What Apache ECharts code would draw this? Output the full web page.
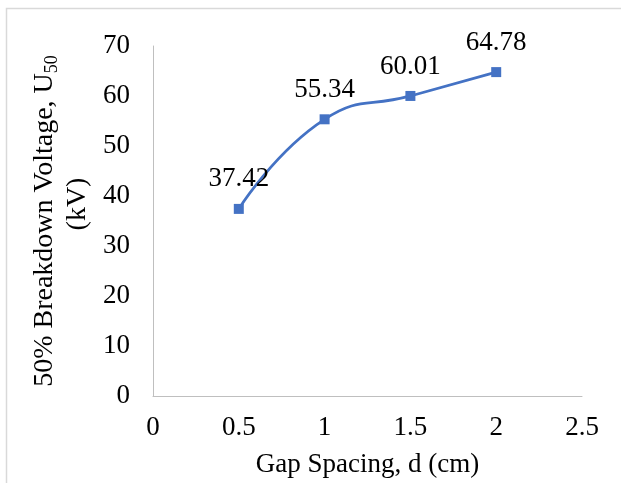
<!DOCTYPE html>
<html>
<head>
<meta charset="utf-8">
<script src="https://cdn.jsdelivr.net/npm/echarts@6/dist/echarts.min.js"></script>
<style>
html,body{margin:0;padding:0;background:#fff;}
#chart{width:621px;height:483px;}
</style>
</head>
<body>
<div id="chart"></div>
<script>
var gapSpacing = [0.5, 1, 1.5, 2];
var breakdownVoltage = [37.42, 55.34, 60.01, 64.78];
var xTicks = [0, 0.5, 1, 1.5, 2, 2.5];
var yTicks = [0, 10, 20, 30, 40, 50, 60, 70];

var FONT = '"Liberation Serif", "Times New Roman", serif';
var chart = echarts.init(document.getElementById('chart'), null, {renderer: 'canvas'});
var data = gapSpacing.map(function (x, i) { return [x, breakdownVoltage[i]]; });

chart.setOption({
  animation: false,
  backgroundColor: '#ffffff',
  graphic: [{
    type: 'rect',
    shape: {x: 6.5, y: 8.5, width: 700, height: 600},
    style: {fill: 'none', stroke: '#D9D9D9', lineWidth: 1.5},
    silent: true
  }],
  grid: {left: 153, right: 39, top: 46, bottom: 87, containLabel: false},
  xAxis: {
    type: 'value',
    min: xTicks[0],
    max: xTicks[xTicks.length - 1],
    interval: 0.5,
    name: 'Gap Spacing, d (cm)',
    nameLocation: 'middle',
    nameGap: 55,
    nameTextStyle: {fontFamily: FONT, fontSize: 27, color: '#000'},
    axisLine: {show: true, lineStyle: {color: '#BFBFBF', width: 1}},
    axisTick: {show: false},
    splitLine: {show: false},
    axisLabel: {fontFamily: FONT, fontSize: 27, color: '#000', margin: 18}
  },
  yAxis: {
    type: 'value',
    min: yTicks[0],
    max: yTicks[yTicks.length - 1],
    interval: 10,
    name: '{t|50% Breakdown Voltage, U}{s|50}\n{k|(kV)}',
    nameLocation: 'middle',
    nameRotate: 90,
    nameGap: 55,
    nameTextStyle: {
      fontFamily: FONT, fontSize: 28, color: '#000', align: 'center',
      rich: {
        t: {fontFamily: FONT, fontSize: 28, color: '#000', lineHeight: 33},
        k: {fontFamily: FONT, fontSize: 28, color: '#000', lineHeight: 33, padding: [0, 0, 0, 34]},
        s: {fontFamily: FONT, fontSize: 18, color: '#000', lineHeight: 18, verticalAlign: 'bottom'}
      }
    },
    axisLine: {show: true, lineStyle: {color: '#BFBFBF', width: 1}},
    axisTick: {show: false},
    splitLine: {show: false},
    axisLabel: {fontFamily: FONT, fontSize: 27, color: '#000', margin: 23}
  },
  series: [{
    type: 'line',
    data: data,
    smooth: 0.5,
    symbol: 'rect',
    symbolSize: 10,
    lineStyle: {color: '#4472C4', width: 2.75},
    itemStyle: {color: '#4472C4'},
    label: {
      show: true,
      position: 'top',
      distance: 11,
      fontFamily: FONT,
      fontSize: 27,
      color: '#000',
      formatter: function (p) { return p.value[1].toFixed(2); }
    }
  }]
});
</script>
</body>
</html>
